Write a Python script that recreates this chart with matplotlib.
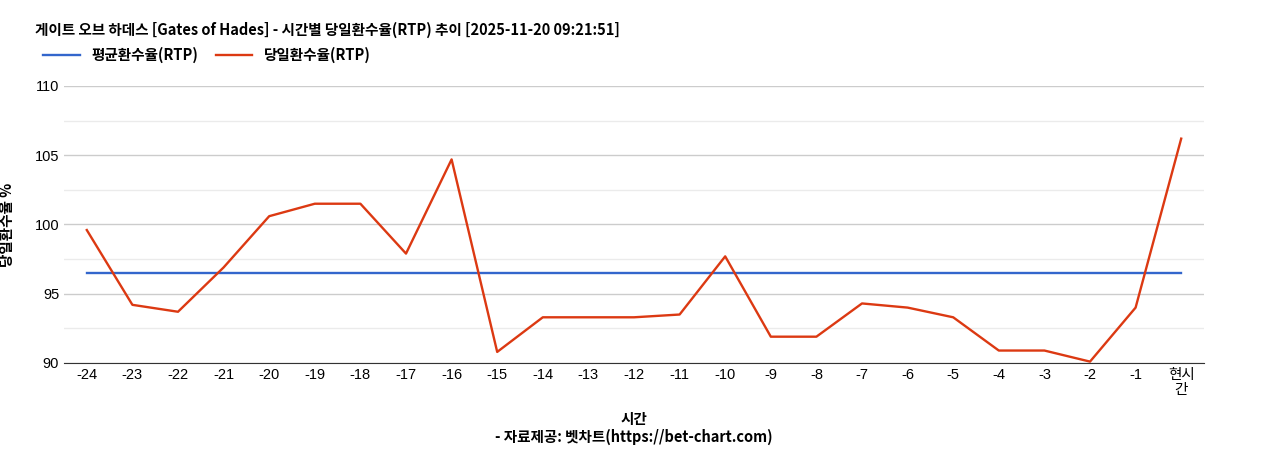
import matplotlib.pyplot as plt

plt.rcParams['font.family'] = ['Noto Sans CJK KR', 'DejaVu Sans']

labels = [str(i) for i in range(-24, 0)] + ['현시\n간']
rtp = [99.6, 94.2, 93.7, 96.9, 100.6, 101.5, 101.5, 97.9, 104.7, 90.8,
       93.3, 93.3, 93.3, 93.5, 97.7, 91.9, 91.9, 94.3, 94.0, 93.3,
       90.9, 90.9, 90.1, 94.0, 106.2]
avg = [96.5] * len(labels)

tick_font = ['Liberation Sans', 'Noto Sans CJK KR']

fig = plt.figure(figsize=(12.68, 4.5), dpi=100)
ax = fig.add_axes([64/1268, 1-363/450, (1204-64)/1268, (363-86)/450])
x = range(len(labels))
ax.plot(x, avg, color='#3366cc', lw=1.7, label='평균환수율(RTP)')
ax.plot(x, rtp, color='#dc3912', lw=1.7, label='당일환수율(RTP)')
ax.set_xlim(-0.5, len(labels) - 0.5)
ax.set_ylim(90, 110)
ax.set_yticks([90, 95, 100, 105, 110])
ax.set_yticks([92.5, 97.5, 102.5, 107.5], minor=True)
ax.grid(axis='y', which='major', color='#cccccc', lw=1)
ax.grid(axis='y', which='minor', color='#ebebeb', lw=1)
ax.set_axisbelow(True)
ax.set_xticks(list(x))
ax.set_xticklabels(labels, fontsize=10.5, linespacing=1.1, family=tick_font)
for t in ax.get_yticklabels():
    t.set_family(tick_font)
ax.tick_params(axis='y', which='both', length=0, labelsize=10.5)
ax.tick_params(axis='x', length=0)
for s in ['top', 'right', 'left']:
    ax.spines[s].set_visible(False)
ax.spines['bottom'].set_color('#333333')
ax.set_ylabel('당일환수율 %', fontsize=10.5, fontweight='bold', labelpad=14)
ax.set_xlabel('시간', fontsize=10.5, fontweight='bold', labelpad=10)
fig.text(0.5, 1-437/450, '- 자료제공: 벳차트(https://bet-chart.com)', ha='center', va='center',
         fontsize=10.5, fontweight='bold')
fig.text(35/1268, 1-30/450, '게이트 오브 하데스 [Gates of Hades] - 시간별 당일환수율(RTP) 추이 [2025-11-20 09:21:51]',
         fontsize=10.5, fontweight='bold', va='center')
fig.legend(loc='center left', bbox_to_anchor=(30/1268, 1-55/450), ncol=2, frameon=False,
           prop={'weight': 'bold', 'size': 10.5}, handlelength=2.5, columnspacing=1.2)
fig.savefig('out.png', dpi=100)
